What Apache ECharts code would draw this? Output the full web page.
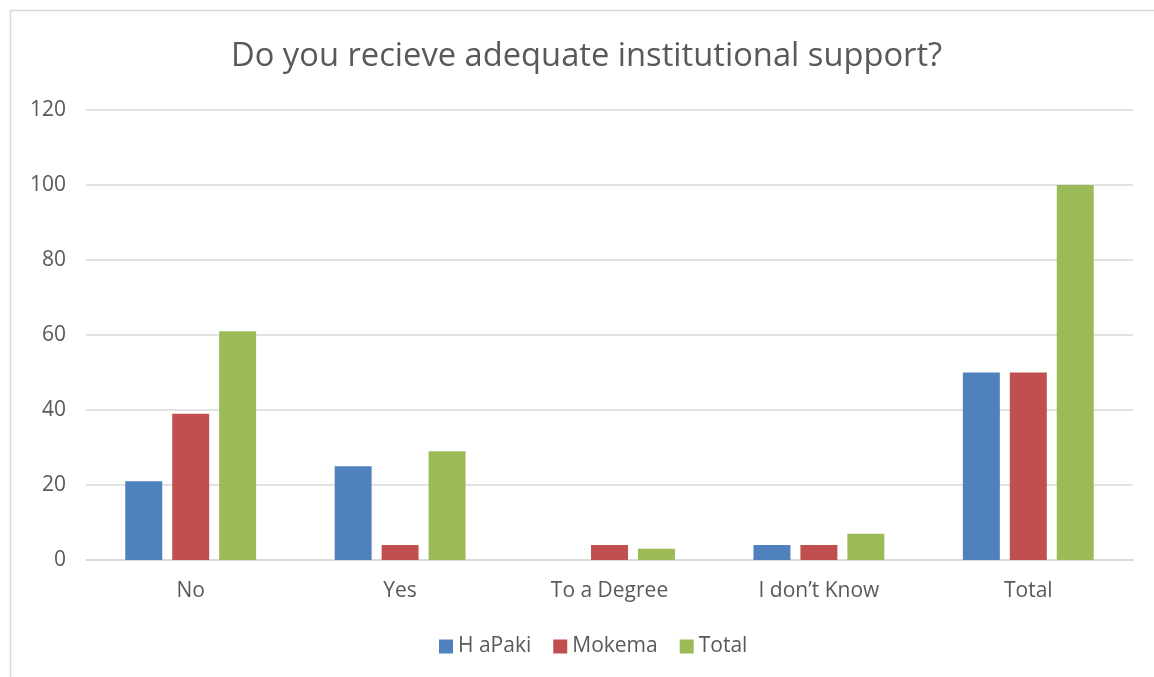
<!DOCTYPE html>
<html><head><meta charset="utf-8">
<script src="https://cdn.jsdelivr.net/npm/echarts@6/dist/echarts.min.js"></script>
<style>html,body{margin:0;padding:0;background:#fff}#c{width:1154px;height:677px}</style>
</head><body><div id="c"></div>
<script>
const categories = ['No', 'Yes', 'To a Degree', 'I don\u2019t Know', 'Total'];
const hapaki = [21, 25, 0, 4, 50];
const mokema = [39, 4, 4, 4, 50];
const total = [61, 29, 3, 7, 100];
const seriesNames = ['H aPaki', 'Mokema', 'Total'];
const colors = ['#4F81BD', '#C0504D', '#9BBB59'];
const font = 'Open Sans';
const chart = echarts.init(document.getElementById('c'), null, {renderer: 'canvas'});
chart.setOption({
  animation: false,
  graphic: [{type: 'rect', shape: {x: 10.5, y: 10.5, width: 1160, height: 700}, style: {fill: 'none', stroke: '#d9d9d9', lineWidth: 1.5}, silent: true}],
  title: {text: 'Do you recieve adequate institutional support?', left: 226, top: 35,
    textStyle: {fontFamily: font, fontSize: 32.7, fontWeight: 'normal', color: '#595959'}},
  legend: {bottom: 15, left: 434, itemWidth: 14, itemHeight: 14, itemGap: 22,
    icon: 'rect', textStyle: {fontFamily: font, fontSize: 21, color: '#595959'}},
  grid: {left: 86, right: 21, top: 110, bottom: 117, containLabel: false},
  xAxis: {type: 'category', data: categories,
    axisLine: {lineStyle: {color: '#d9d9d9', width: 1.5}}, axisTick: {show: false},
    axisLabel: {fontFamily: font, fontSize: 21, color: '#595959', margin: 21}},
  yAxis: {type: 'value', min: 0, max: 120, interval: 20,
    axisLine: {show: false}, axisTick: {show: false},
    splitLine: {lineStyle: {color: '#d9d9d9', width: 1.5}},
    axisLabel: {fontFamily: font, fontSize: 21, color: '#595959', margin: 20}},
  series: [
    {name: seriesNames[0], type: 'bar', data: hapaki, itemStyle: {color: colors[0]}, barGap: '27%', barCategoryGap: '37.5%'},
    {name: seriesNames[1], type: 'bar', data: mokema, itemStyle: {color: colors[1]}},
    {name: seriesNames[2], type: 'bar', data: total, itemStyle: {color: colors[2]}}
  ]
});
</script></body></html>
